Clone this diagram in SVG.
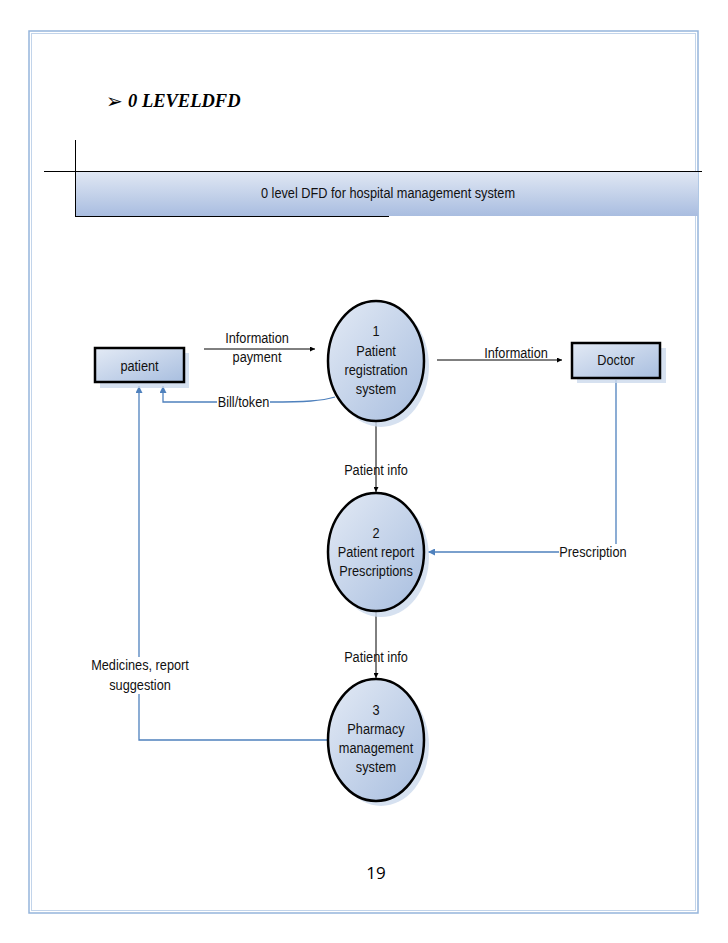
<svg xmlns="http://www.w3.org/2000/svg" width="728" height="943" viewBox="0 0 728 943">
<style>
.t{font-family:"Liberation Sans",Arial,sans-serif;font-size:15px;fill:#111;text-anchor:middle;dominant-baseline:central}
.node{stroke:#000;stroke-width:2.5;fill:url(#g)}
.shadow{fill:#ccd9ec;opacity:0.8}
.blue{fill:none;stroke:#4f81bd;stroke-width:1.3}
.black{fill:none;stroke:#000;stroke-width:1}
</style>
<defs>
<linearGradient id="g" x1="0" y1="0" x2="1" y2="1">
<stop offset="0" stop-color="#e3eaf5"/>
<stop offset="1" stop-color="#a8bedf"/>
</linearGradient>
<linearGradient id="bg" x1="0" y1="0" x2="0" y2="1">
<stop offset="0" stop-color="#e1e8f4"/>
<stop offset="1" stop-color="#a9bde0"/>
</linearGradient>
<marker id="ab" viewBox="0 0 10 10" refX="10" refY="5" markerWidth="7" markerHeight="7" orient="auto" markerUnits="userSpaceOnUse">
<path d="M0,0 L10,5 L0,10 z" fill="#4f81bd"/>
</marker>
<marker id="ak" viewBox="0 0 10 10" refX="10" refY="5" markerWidth="5" markerHeight="5" orient="auto" markerUnits="userSpaceOnUse">
<path d="M0,0 L10,5 L0,10 z" fill="#000"/>
</marker>
</defs>
<rect width="728" height="943" fill="#fff"/>
<!-- page border -->
<rect x="29" y="31" width="669" height="882" fill="none" stroke="#95b5db" stroke-width="1.5"/>
<rect x="31.5" y="33.5" width="664" height="877" fill="none" stroke="#c2d4ea" stroke-width="1"/>
<!-- heading -->
<text x="106" y="108" font-family="DejaVu Sans,sans-serif" font-size="20" fill="#000">➢</text>
<text x="128" y="107" font-family="Liberation Serif,Times New Roman,serif" font-size="18.5" font-weight="bold" font-style="italic" fill="#000">0 LEVELDFD</text>
<!-- banner -->
<g id="banner">
<rect x="75" y="171" width="623" height="45" fill="url(#bg)"/>
<line x1="75.5" y1="140" x2="75.5" y2="217" stroke="#000" stroke-width="1"/>
<line x1="44" y1="171.5" x2="702" y2="171.5" stroke="#000" stroke-width="1"/>
<line x1="75" y1="216.5" x2="389" y2="216.5" stroke="#000" stroke-width="1"/>
<text class="t" transform="translate(388 193) scale(0.85 1)" font-size="15.5">0 level DFD for hospital management system</text>
</g>
<!-- connectors -->
<g id="connectors">
<line class="black" x1="204" y1="349" x2="315" y2="349" marker-end="url(#ak)"/>
<text class="t" transform="translate(257 338) scale(0.85 1)">Information</text>
<text class="t" transform="translate(257 357) scale(0.85 1)">payment</text>
<line class="black" x1="437" y1="360" x2="562" y2="360" marker-end="url(#ak)"/>
<text class="t" transform="translate(516 353) scale(0.85 1)">Information</text>
<path class="blue" d="M335,397 C322,401 305,402 270,402 L163,402 L163,386" marker-end="url(#ab)"/>
<rect x="217" y="394" width="53" height="16" fill="#fff"/>
<text class="t" transform="translate(243.5 402) scale(0.85 1)">Bill/token</text>
<line class="black" x1="376" y1="422" x2="376" y2="492" marker-end="url(#ak)"/>
<text class="t" transform="translate(376 470) scale(0.85 1)">Patient info</text>
<line class="black" x1="376" y1="612" x2="376" y2="678" marker-end="url(#ak)"/>
<text class="t" transform="translate(376 657) scale(0.85 1)">Patient info</text>
<path class="blue" d="M616,380 L616,552 L428,552" marker-end="url(#ab)"/>
<rect x="559" y="544" width="68" height="16" fill="#fff"/>
<text class="t" transform="translate(593 552) scale(0.85 1)">Prescription</text>
<path class="blue" d="M329,740 L139,740 L139,386" marker-end="url(#ab)"/>
<rect x="88" y="657" width="104" height="37" fill="#fff"/>
<text class="t" transform="translate(140 665) scale(0.85 1)">Medicines, report</text>
<text class="t" transform="translate(140 685) scale(0.85 1)">suggestion</text>
</g>
<!-- nodes -->
<g id="patient">
<rect class="shadow" x="100" y="353" width="89" height="35"/>
<rect class="node" x="95" y="348" width="89" height="34"/>
<text class="t" transform="translate(139.5 366) scale(0.85 1)">patient</text>
</g>
<g id="doctor">
<rect class="shadow" x="577" y="348" width="89" height="35"/>
<rect class="node" x="572" y="343" width="88" height="35"/>
<text class="t" transform="translate(616 360) scale(0.85 1)">Doctor</text>
</g>
<g id="p1">
<ellipse class="shadow" cx="381" cy="366" rx="48" ry="61"/>
<ellipse class="node" cx="376" cy="361" rx="48" ry="60"/>
<text class="t" transform="translate(376 331) scale(0.85 1)">1</text>
<text class="t" transform="translate(376 351) scale(0.85 1)">Patient</text>
<text class="t" transform="translate(376 370) scale(0.85 1)">registration</text>
<text class="t" transform="translate(376 389) scale(0.85 1)">system</text>
</g>
<g id="p2">
<ellipse class="shadow" cx="381" cy="557" rx="48" ry="60"/>
<ellipse class="node" cx="376" cy="552" rx="48" ry="59"/>
<text class="t" transform="translate(376 533) scale(0.85 1)">2</text>
<text class="t" transform="translate(376 552) scale(0.85 1)">Patient report</text>
<text class="t" transform="translate(376 571) scale(0.85 1)">Prescriptions</text>
</g>
<g id="p3">
<ellipse class="shadow" cx="381" cy="745" rx="48" ry="61"/>
<ellipse class="node" cx="376" cy="740" rx="48" ry="61"/>
<text class="t" transform="translate(376 710) scale(0.85 1)">3</text>
<text class="t" transform="translate(376 729) scale(0.85 1)">Pharmacy</text>
<text class="t" transform="translate(376 748) scale(0.85 1)">management</text>
<text class="t" transform="translate(376 767) scale(0.85 1)">system</text>
</g>
<text x="376" y="879" font-family="Open Sans,Liberation Sans,sans-serif" font-size="17" fill="#000" text-anchor="middle">19</text>
</svg>
